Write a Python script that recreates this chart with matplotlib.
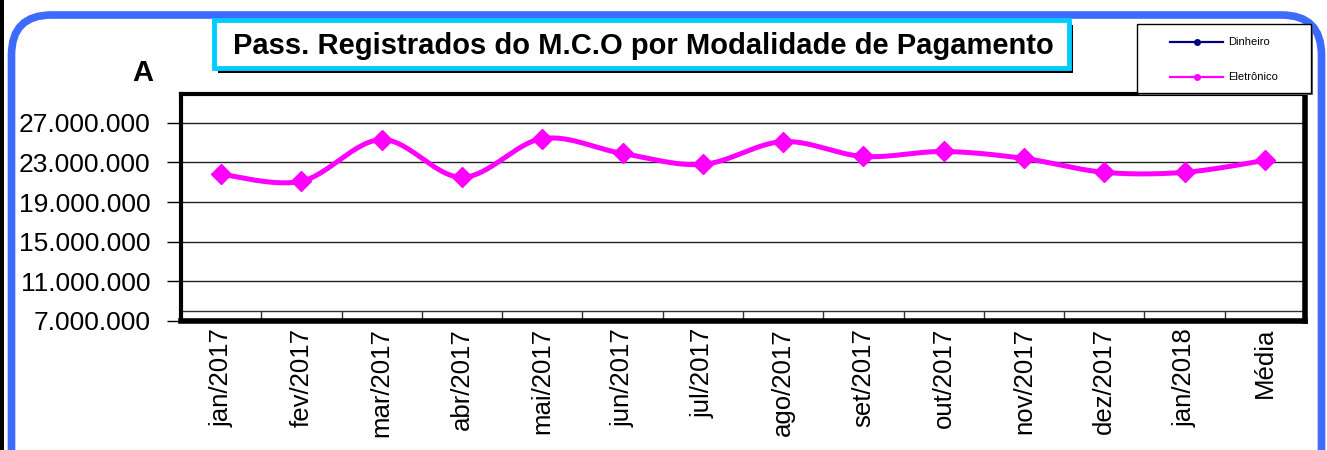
import numpy as np
import matplotlib
matplotlib.use("Agg")
import matplotlib.pyplot as plt
from matplotlib.patches import FancyBboxPatch, Rectangle
from matplotlib.lines import Line2D
from matplotlib.ticker import FuncFormatter

plt.rcParams['font.family'] = ['Liberation Sans', 'DejaVu Sans']

# data
meses = ['jan/2017', 'fev/2017', 'mar/2017', 'abr/2017', 'mai/2017', 'jun/2017', 'jul/2017',
         'ago/2017', 'set/2017', 'out/2017', 'nov/2017', 'dez/2017', 'jan/2018', 'Média']
eletronico = [21800000, 21100000, 25300000, 21500000, 25400000, 23900000, 22800000,
              25100000, 23600000, 24100000, 23400000, 22000000, 22000000, 23200000]
y_ticks = [7000000, 11000000, 15000000, 19000000, 23000000, 27000000]

titulo = 'Pass. Registrados do M.C.O por Modalidade de Pagamento'
series_legenda = ['Dinheiro', 'Eletrônico']
cores_legenda = ['#000080', '#FF00FF']
cor_eletronico = '#FF00FF'


def suavizar(x, y, n=30):
    # smoothed line like the spreadsheet one (catmull-rom bezier)
    x = np.asarray(x, float)
    y = np.asarray(y, float)
    px = np.concatenate([[x[0]], x, [x[-1]]])
    py = np.concatenate([[y[0]], y, [y[-1]]])
    xs, ys = [], []
    t = np.linspace(0, 1, n)
    for i in range(1, len(px) - 2):
        p0x, p1x, p2x, p3x = px[i - 1], px[i], px[i + 1], px[i + 2]
        p0y, p1y, p2y, p3y = py[i - 1], py[i], py[i + 1], py[i + 2]
        c1x, c1y = p1x + (p2x - p0x) / 6, p1y + (p2y - p0y) / 6
        c2x, c2y = p2x - (p3x - p1x) / 6, p2y - (p3y - p1y) / 6
        bx = (1 - t) ** 3 * p1x + 3 * (1 - t) ** 2 * t * c1x + 3 * (1 - t) * t ** 2 * c2x + t ** 3 * p2x
        by = (1 - t) ** 3 * p1y + 3 * (1 - t) ** 2 * t * c1y + 3 * (1 - t) * t ** 2 * c2y + t ** 3 * p2y
        xs.extend(bx)
        ys.extend(by)
    return np.array(xs), np.array(ys)


W, H = 1327, 450
fig = plt.figure(figsize=(W / 100, H / 100), dpi=100)

# outer blue rounded border and black strip on the left
fig.patches.append(Rectangle((0, 0), 0.04, 4.5, transform=fig.dpi_scale_trans,
                             facecolor='black', edgecolor='none'))
fig.patches.append(FancyBboxPatch((0.115, -0.6), 13.1, 4.95,
                                  boxstyle='round,pad=0,rounding_size=0.4',
                                  transform=fig.dpi_scale_trans, facecolor='none',
                                  edgecolor='#3D6BFF', linewidth=5.5))

ax = fig.add_axes([181 / W, 1 - 321 / H, (1305 - 181) / W, (321 - 94) / H])
x = np.arange(len(meses))

xs, ys = suavizar(x, eletronico)
ax.plot(xs, ys, color=cor_eletronico, linewidth=3.6, solid_capstyle='round', zorder=3)
ax.plot(x, eletronico, linestyle='none', marker='D', markersize=10,
        color=cor_eletronico, zorder=4)

ax.set_xlim(-0.5, len(meses) - 0.5)
ax.set_ylim(7000000, 29900000)
ax.set_yticks(y_ticks)
ax.yaxis.set_major_formatter(FuncFormatter(lambda v, p: f'{int(v):,}'.replace(',', '.')))
ax.yaxis.grid(True, color='#222222', linewidth=1)
ax.set_axisbelow(True)
ax.tick_params(axis='y', labelsize=19, length=10, width=1, pad=12, colors='black')

ax.set_xticks(x)
ax.set_xticklabels(meses, rotation=90, fontsize=18.5)
ax.tick_params(axis='x', length=0, pad=5)

# category axis crossing slightly above the bottom, with boundary ticks
ax.axhline(8000000, color='#333333', linewidth=1, zorder=2)
ax.vlines(np.arange(len(meses) - 1) + 0.5, 7000000, 8000000, color='#333333', linewidth=1, zorder=2)

for s in ['top', 'left']:
    ax.spines[s].set_linewidth(3)
for s in ['right', 'bottom']:
    ax.spines[s].set_linewidth(4)

# title box with shadow
fig.patches.append(Rectangle((2.18, 3.77), 8.55, 0.48, transform=fig.dpi_scale_trans,
                             facecolor='black', edgecolor='none'))
fig.patches.append(Rectangle((2.14, 3.82), 8.55, 0.48, transform=fig.dpi_scale_trans,
                             facecolor='white', edgecolor='#00CCFF', linewidth=3.5))
fig.text(6.43 / 13.27, 1 - 46 / H, titulo, ha='center', va='center',
         fontsize=21, fontweight='bold')

fig.text(143 / W, 1 - 73 / H, 'A', ha='center', va='center', fontsize=21, fontweight='bold')

# legend box drawn by hand so it matches the original size
fig.patches.append(Rectangle((1139 / W, 1 - 95 / H), 174 / W, 69 / H, transform=fig.transFigure,
                             facecolor='#666666', edgecolor='none', zorder=5))
fig.patches.append(Rectangle((1137 / W, 1 - 93 / H), 174 / W, 69 / H, transform=fig.transFigure,
                             facecolor='white', edgecolor='black', linewidth=1, zorder=6))
for i, (nome, cor) in enumerate(zip(series_legenda, cores_legenda)):
    yl = 1 - (42 + 34.5 * i) / H
    fig.lines.append(Line2D([1170 / W, 1223 / W], [yl, yl], transform=fig.transFigure,
                            color=cor, linewidth=1.6, zorder=7))
    fig.lines.append(Line2D([1197 / W], [yl], transform=fig.transFigure, color=cor,
                            marker='o', markersize=4, zorder=7))
    fig.text(1228 / W, yl, nome, ha='left', va='center', fontsize=8, zorder=7)

fig.savefig('out.png', dpi=100)
